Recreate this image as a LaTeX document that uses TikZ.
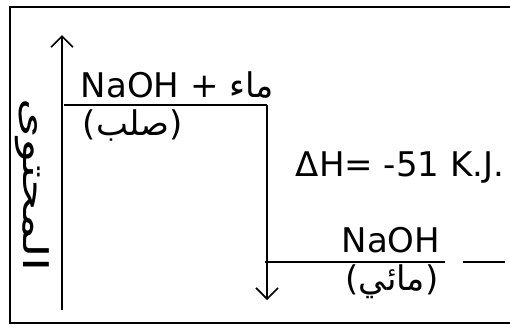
\documentclass[tikz,border=0pt]{standalone}
\usepackage{fontspec}
\setmainfont{DejaVu Sans}
\newfontfamily\arabicfont[Script=Arabic]{DejaVu Sans}
\TeXXeTstate=1
\usetikzlibrary{arrows.meta}
\begin{document}
\begin{tikzpicture}[x=1pt,y=-1pt, line width=1.6pt,
  lbl/.style={font=\fontsize{34}{36}\selectfont, inner sep=0pt},
  ar/.style={font=\fontsize{34}{36}\selectfont, inner sep=0pt},
  barb/.style={-{Straight Barb[length=11pt,width=22pt]}}]
\useasboundingbox (0,0) rectangle (510,330);
\fill[white] (0,0) rectangle (510,330);
% frame
\draw (515,7) -- (10,7) -- (10,323) -- (515,323);
% energy axis
\coordinate (ax0) at (62,310);
\coordinate (ax1) at (62,35);
\draw[barb] (ax0) -- (ax1);
% upper level
\coordinate (u0) at (64,105);
\coordinate (u1) at (267,105);
\draw (u0) -- (u1);
% lower level
\coordinate (d0) at (265,262);
\coordinate (d1) at (445,262);
\coordinate (e0) at (463,262);
\coordinate (e1) at (505,262);
\draw (d0) -- (d1);
\draw (e0) -- (e1);
% delta H arrow
\coordinate (dh1) at (267,300);
\draw[barb] (u1) -- (dh1);
% labels
\node[lbl, anchor=base west] (r1) at (80,97) {NaOH + {\arabicfont\beginR ماء\endR}};
\node[ar] (r1s) at (133,125) {({\arabicfont\beginR صلب\endR})};
\node[lbl] (dh) at (400,168) {ΔH= -51 K.J.};
\node[lbl] (p1) at (391,240) {NaOH};
\node[ar] (p1s) at (392,282) {({\arabicfont\beginR مائي\endR})};
\node[ar, rotate=-90, xscale=1.5] (yl) at (32,185) {\arabicfont\beginR المحتوى\endR};
\end{tikzpicture}
\end{document}
